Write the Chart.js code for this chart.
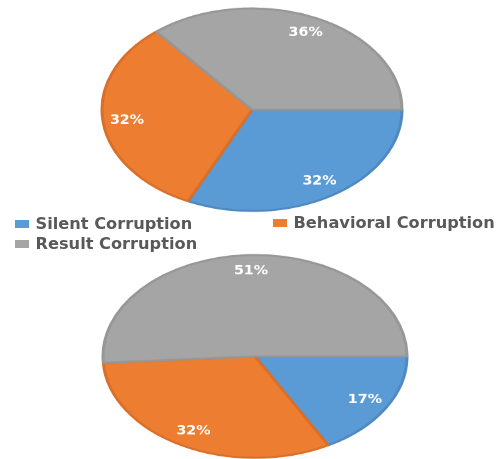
<!DOCTYPE html>
<html>
<head>
<meta charset="utf-8">
<script src="https://cdn.jsdelivr.net/npm/chart.js@4"></script>
<style>
  html, body { margin: 0; padding: 0; background: #fff; }
  body { width: 500px; height: 459px; position: relative; overflow: hidden; }
  .pie { position: absolute; transform-origin: 0 0; }
  #legend { position: absolute; left: 0; top: 0; width: 500px; height: 459px; pointer-events: none; }
  .item { position: absolute; white-space: nowrap; font: bold 15px "DejaVu Sans", sans-serif; color: #595959;
          transform: scaleX(1.08); transform-origin: 0 50%; }
  .item i { display: inline-block; width: 13px; height: 8px; margin-right: 6px; vertical-align: 1px; }
</style>
</head>
<body>
<canvas id="pieTop" class="pie" width="310" height="310"></canvas>
<canvas id="pieBottom" class="pie" width="310" height="310"></canvas>
<div id="legend"></div>
<script>
// categories and values (percent)
const categories = ['Silent Corruption', 'Behavioral Corruption', 'Result Corruption'];
const topValues = [32, 32, 36];
const bottomValues = [17, 32, 51];

const fillColors = ['#5B9BD5', '#ED7D31', '#A5A5A5'];
const edgeColors = ['#4E89C2', '#D96F28', '#979797'];

// slice labels, drawn un-squashed on the vertically scaled canvas
const sliceLabels = {
  id: 'sliceLabels',
  afterDatasetsDraw(chart, args, opts) {
    const ctx = chart.ctx;
    const values = chart.data.datasets[0].data;
    chart.getDatasetMeta(0).data.forEach((arc, i) => {
      const p = arc.getProps(['x', 'y', 'startAngle', 'endAngle', 'outerRadius'], true);
      const mid = (p.startAngle + p.endAngle) / 2;
      const r = p.outerRadius * 0.84;
      ctx.save();
      ctx.translate(p.x + Math.cos(mid) * r, p.y + Math.sin(mid) * r);
      ctx.scale(1.1, 1 / opts.squash);
      ctx.font = 'bold 13px "DejaVu Sans"';
      ctx.fillStyle = '#ffffff';
      ctx.textAlign = 'center';
      ctx.textBaseline = 'middle';
      ctx.fillText(values[i] + '%', 0, 0);
      ctx.restore();
    });
  }
};

function makePie(id, values, radius, squash, left, top) {
  const canvas = document.getElementById(id);
  canvas.style.left = left + 'px';
  canvas.style.top = top + 'px';
  canvas.style.transform = 'scaleY(' + squash + ')';
  return new Chart(canvas.getContext('2d'), {
    type: 'pie',
    data: {
      labels: categories,
      datasets: [{
        data: values,
        backgroundColor: fillColors,
        borderColor: edgeColors,
        borderWidth: 3
      }]
    },
    options: {
      responsive: false,
      animation: false,
      rotation: 90,
      radius: radius,
      layout: { padding: 0 },
      events: [],
      plugins: {
        legend: { display: false },
        tooltip: { enabled: false },
        sliceLabels: { squash: squash }
      }
    },
    plugins: [sliceLabels]
  });
}

makePie('pieTop', topValues, 150, 0.675, 97, 5);
makePie('pieBottom', bottomValues, 152, 0.667, 100, 253);

// legend
const legendPos = [[15, 215], [273, 214], [15, 235]];
const legend = document.getElementById('legend');
categories.forEach((name, i) => {
  const el = document.createElement('div');
  el.className = 'item';
  el.style.left = legendPos[i][0] + 'px';
  el.style.top = legendPos[i][1] + 'px';
  el.innerHTML = '<i style="background:' + fillColors[i] + '"></i>' + name;
  legend.appendChild(el);
});
</script>
</body>
</html>
